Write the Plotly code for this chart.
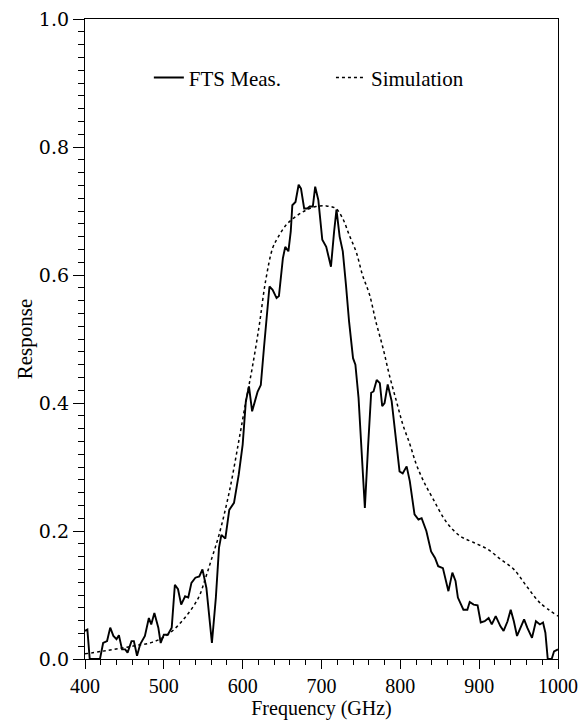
import plotly.graph_objects as go

# Measured FTS response
meas_freq = [400, 403, 406, 419, 423, 428, 432, 436, 440, 443, 447, 451, 454, 459, 462, 466,
             470, 476, 481, 484, 488, 493, 496, 500, 505, 510, 514, 518, 522, 527, 531, 535,
             540, 545, 549, 554, 561, 566, 570, 573, 578, 583, 589, 595, 600, 604, 608, 612,
             619, 623, 627, 634, 638, 643, 646, 651, 654, 658, 661, 663, 667, 671, 674, 678,
             682, 685, 689, 692, 696, 701, 706, 709, 712, 716, 719, 723, 727, 731, 735, 740,
             743, 747, 752, 755, 759, 763, 766, 770, 774, 777, 780, 784, 789, 793, 799, 803,
             808, 812, 818, 823, 827, 833, 839, 844, 848, 854, 861, 866, 870, 873, 880, 885,
             888, 893, 898, 902, 907, 912, 916, 921, 927, 931, 936, 940, 944, 948, 952, 957,
             961, 967, 972, 977, 981, 984, 987, 992, 995, 1000]
meas_resp = [0.044, 0.046, 0.0, 0.0, 0.025, 0.028, 0.049, 0.036, 0.031, 0.037, 0.015, 0.015,
             0.010, 0.028, 0.028, 0.005, 0.023, 0.036, 0.064, 0.054, 0.072, 0.049, 0.025, 0.038,
             0.038, 0.049, 0.116, 0.109, 0.085, 0.098, 0.096, 0.119, 0.127, 0.129, 0.140, 0.111,
             0.025, 0.096, 0.174, 0.194, 0.188, 0.233, 0.244, 0.288, 0.335, 0.402, 0.426, 0.387,
             0.418, 0.428, 0.486, 0.582, 0.577, 0.564, 0.567, 0.626, 0.644, 0.637, 0.668, 0.709,
             0.714, 0.741, 0.735, 0.704, 0.704, 0.707, 0.707, 0.738, 0.717, 0.655, 0.644, 0.629,
             0.613, 0.668, 0.702, 0.660, 0.637, 0.585, 0.527, 0.470, 0.460, 0.408, 0.309, 0.236,
             0.330, 0.416, 0.418, 0.436, 0.431, 0.395, 0.400, 0.429, 0.403, 0.358, 0.293, 0.290,
             0.301, 0.278, 0.226, 0.218, 0.220, 0.200, 0.168, 0.158, 0.145, 0.142, 0.106, 0.135,
             0.122, 0.096, 0.077, 0.077, 0.089, 0.085, 0.084, 0.057, 0.059, 0.064, 0.054, 0.067,
             0.051, 0.044, 0.059, 0.077, 0.059, 0.036, 0.049, 0.062, 0.049, 0.033, 0.059, 0.054,
             0.057, 0.041, 0.0, 0.0, 0.012, 0.015]

# Simulated response
sim_freq = [400, 421, 442, 464, 485, 506, 527, 544, 553, 561, 570, 583, 595, 604, 612, 621,
            629, 638, 644, 655, 667, 680, 693, 706, 718, 727, 735, 744, 752, 761, 769, 778,
            786, 795, 803, 812, 820, 829, 842, 859, 876, 893, 910, 927, 944, 960, 977, 1000]
sim_resp = [0.008, 0.012, 0.016, 0.021, 0.026, 0.039, 0.065, 0.096, 0.127, 0.158, 0.194, 0.261,
            0.340, 0.402, 0.454, 0.521, 0.590, 0.642, 0.657, 0.678, 0.691, 0.701, 0.707, 0.708,
            0.704, 0.688, 0.663, 0.636, 0.600, 0.569, 0.527, 0.486, 0.444, 0.403, 0.367, 0.336,
            0.305, 0.279, 0.249, 0.213, 0.192, 0.182, 0.172, 0.156, 0.140, 0.114, 0.088, 0.067]

x_ticks = [400, 500, 600, 700, 800, 900, 1000]
y_ticks = [0.0, 0.2, 0.4, 0.6, 0.8, 1.0]
y_ticklabels = ["0.0", "0.2", "0.4", "0.6", "0.8", "1.0"]

SERIF = "Liberation Serif, Times New Roman, serif"

fig = go.Figure()
fig.add_trace(go.Scatter(x=meas_freq, y=meas_resp, mode="lines", name="FTS Meas.",
                         line=dict(color="black", width=1.9), legend="legend", showlegend=True))
fig.add_trace(go.Scatter(x=sim_freq, y=sim_resp, mode="lines", name="Simulation",
                         line=dict(color="black", width=1.5, dash="dot", shape="spline"),
                         legend="legend2", showlegend=True))

axis_common = dict(showgrid=False, zeroline=False, showline=True, linecolor="black",
                   linewidth=1.3, mirror=True, ticks="outside", tickcolor="black",
                   tickwidth=1.2, automargin=False)

fig.update_layout(
    width=583, height=721,
    margin=dict(l=85, r=25, t=19, b=62),
    showlegend=True,
    plot_bgcolor="white", paper_bgcolor="white",
    font=dict(family=SERIF, size=21, color="black"),
    xaxis=dict(range=[400, 1000], tickvals=x_ticks, ticklen=9,
               tickfont=dict(family=SERIF, size=20),
               title=dict(text="Frequency (GHz)", font=dict(family=SERIF, size=20), standoff=0),
               minor=dict(dtick=20, ticks="outside", ticklen=5, tickcolor="black", tickwidth=1),
               **axis_common),
    yaxis=dict(range=[0, 1], tickvals=y_ticks, ticktext=y_ticklabels, ticklen=11,
               tickfont=dict(family="DejaVu Serif", size=19),
               title=dict(text="Response", font=dict(family=SERIF, size=21), standoff=0),
               minor=dict(dtick=0.02, ticks="outside", ticklen=6, tickcolor="black", tickwidth=1),
               **axis_common),
    legend=dict(x=0.135, y=0.908, xanchor="left", yanchor="middle", visible=True,
                bgcolor="rgba(0,0,0,0)", font=dict(family=SERIF, size=21)),
    legend2=dict(x=0.52, y=0.908, xanchor="left", yanchor="middle", visible=True,
                 bgcolor="rgba(0,0,0,0)", font=dict(family=SERIF, size=21)),
)

fig.write_html("out.html")
